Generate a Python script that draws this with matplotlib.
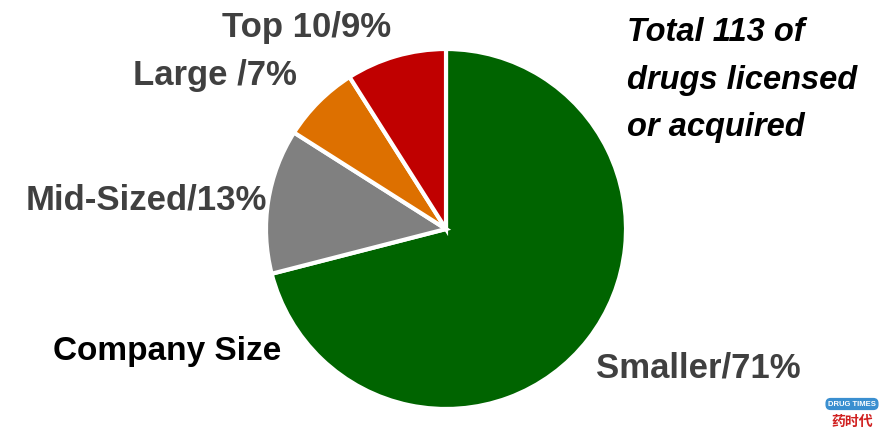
import matplotlib.pyplot as plt

# ===============================
# DATA
# ===============================

segments = ["Smaller", "Mid-Sized", "Large", "Top 10"]
shares = [71, 13, 7, 9]
colors = ["#006400", "#808080", "#DD7000", "#C00000"]
labels = ["Smaller/71%", "Mid-Sized/13%", "Large /7%", "Top 10/9%"]
total_drugs = 113

# ===============================
# PLOT
# ===============================

fig = plt.figure(figsize=(8.94, 4.39), dpi=100)
ax = fig.add_axes([0, 0, 1, 1])

ax.pie(shares, colors=colors, startangle=90, counterclock=False,
       center=(446, 209), radius=180,
       wedgeprops=dict(edgecolor="white", linewidth=3))

# pie() resets the view, so set pixel limits afterwards
ax.set_xlim(0, 894)
ax.set_ylim(0, 439)
ax.set_aspect("equal")
ax.axis("off")

gray = "#404040"
lab_kw = dict(fontfamily="Liberation Sans", fontweight="bold", fontsize=25,
              va="center", ha="left")
# label positions (pixels from left / from bottom)
pos = {"Smaller/71%": (596, 71), "Mid-Sized/13%": (26, 239),
       "Large /7%": (133, 364), "Top 10/9%": (222, 412)}
for lab in labels:
    x, y = pos[lab]
    ax.text(x, y, lab, color=gray, **lab_kw)

ax.text(53, 87, "Company Size", color="black",
        **{**lab_kw, "fontsize": 24})

ax.text(627, 439 - 80, f"Total {total_drugs} of\ndrugs licensed\nor acquired",
        fontfamily="Liberation Sans", fontweight="bold", fontstyle="italic",
        fontsize=23.5, color="black", ha="left", va="center", linespacing=1.7)

# small logo bottom right
ax.text(852, 439 - 405, "DRUG TIMES", fontsize=5.5, fontweight="bold",
        color="white", ha="center", va="center", fontfamily="Liberation Sans",
        bbox=dict(boxstyle="round,pad=0.25,rounding_size=0.6",
                  fc="#3A8FD0", ec="#3A8FD0"))
ax.text(852, 439 - 422, "药时代", fontsize=10, color="#D02020", fontweight="bold",
        ha="center", va="center", fontfamily=["Noto Sans CJK SC", "DejaVu Sans"])

fig.savefig("out.png", dpi=100)
